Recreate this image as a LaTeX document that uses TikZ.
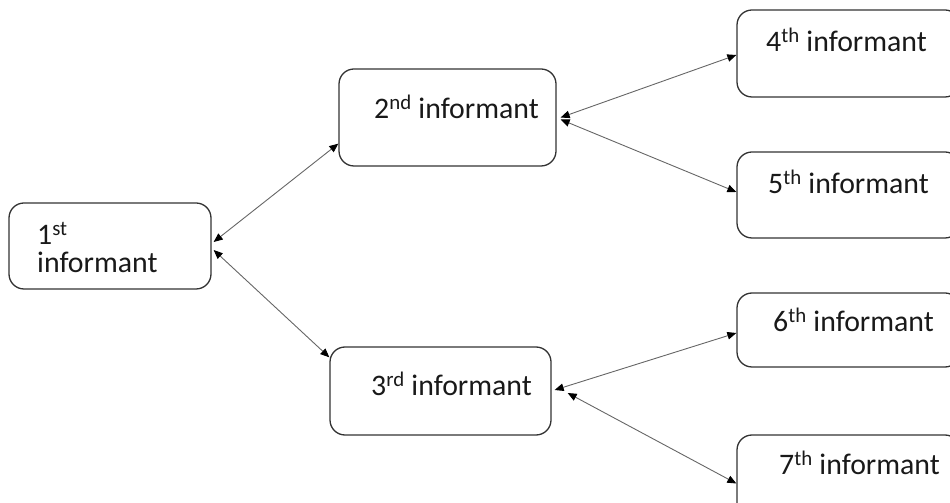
\documentclass[tikz,border=0pt]{standalone}
\usepackage{fontspec}
\setmainfont{Carlito}
\usetikzlibrary{arrows.meta}
\tikzset{
  box/.style={draw=black!80, line width=1.3pt, rounded corners=15pt, inner sep=0pt},
  lbl/.style={anchor=base west, inner sep=0pt, font=\fontsize{29.8}{34}\selectfont, text=black!90},
  link/.style={draw=black!60, line width=0.9pt, {Triangle[length=9pt,width=7.5pt,color=black]}-{Triangle[length=9pt,width=7.5pt,color=black]}},
}
\begin{document}
\begin{tikzpicture}[x=1pt,y=1pt]
\useasboundingbox (0,0) rectangle (950,503);
\clip (0,0) rectangle (950,503);
\node[box, minimum width=202pt, minimum height=86pt] (b1) at (110,257) {};
\node[box, minimum width=217pt, minimum height=97pt] (b2) at (447.5,385.5) {};
\node[box, minimum width=221pt, minimum height=88pt] (b3) at (440.5,112) {};
\node[box, minimum width=223pt, minimum height=87pt] (b4) at (848.5,449.5) {};
\node[box, minimum width=223pt, minimum height=86pt] (b5) at (848.5,308) {};
\node[box, minimum width=223pt, minimum height=74pt] (b6) at (848.5,173) {};
\node[box, minimum width=223pt, minimum height=85pt] (b7) at (848.5,25.5) {};

\node[lbl] (t1a) at (37,258) {1\textsuperscript{st}};
\node[lbl] (t1b) at (37,230) {informant};
\node[lbl] (t2) at (374,384) {2\textsuperscript{nd} informant};
\node[lbl] (t3) at (371,107) {3\textsuperscript{rd} informant};
\node[lbl] (t4) at (766,451) {4\textsuperscript{th} informant};
\node[lbl] (t5) at (768,309) {5\textsuperscript{th} informant};
\node[lbl] (t6) at (773,171) {6\textsuperscript{th} informant};
\node[lbl] (t7) at (779,28) {7\textsuperscript{th} informant};

\draw[link] ([xshift=2pt,yshift=4pt]b1.east) -- ([yshift=23pt]b2.south west);
\draw[link] ([xshift=2pt,yshift=-4pt]b1.east) -- ([yshift=-11pt]b3.north west);
\draw[link] ([xshift=4pt,yshift=0pt]b2.east) -- ([yshift=-1.5pt]b4.west);
\draw[link] ([xshift=4pt,yshift=-2pt]b2.east) -- ([yshift=3pt]b5.west);
\draw[link] ([xshift=3pt,yshift=1pt]b3.east) -- ([yshift=-3pt]b6.west);
\draw[link] ([xshift=16pt,yshift=-2pt]b3.east) -- ([yshift=-6pt]b7.west);
\end{tikzpicture}
\end{document}
